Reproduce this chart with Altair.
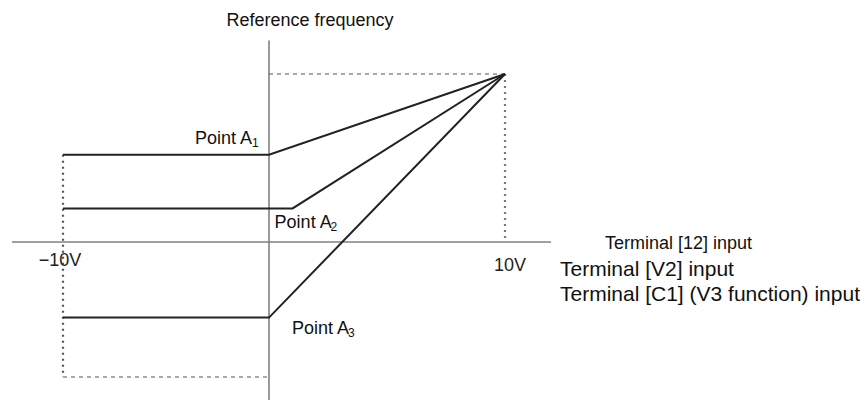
import altair as alt
import pandas as pd

# ---- data ----
series = ["Terminal [12] input", "Terminal [V2] input", "Terminal [C1] (V3 function) input"]
point_names = ["1", "2", "3"]
point_volt = [0, 1, 0]          # voltage at point A (V)
point_freq = [52, 20, -56]      # frequency at point A (% of max)
v_min, v_max = -10, 10
f_max, f_min = 100, -100

rows = []
for s, pv, pf in zip(series, point_volt, point_freq):
    for i, (v, f) in enumerate([(v_min, pf), (pv, pf), (v_max, f_max)]):
        rows.append({"series": s, "volt": v, "freq": f, "order": i})
lines_df = pd.DataFrame(rows)

xs = alt.Scale(domain=[-10, 0, 10], range=[55, 261, 497], zero=False, nice=False)
ys = alt.Scale(domain=[-100, 0, 100], range=[369, 234, 66], zero=False, nice=False)

def X(v):
    return alt.X(datum=v, scale=xs, axis=None, type="quantitative")

def Y(v):
    return alt.Y(datum=v, scale=ys, axis=None, type="quantitative")

base = alt.Chart(pd.DataFrame({"a": [0]}))

def rule(x1, y1, x2, y2, color, width, dash=None):
    kw = dict(color=color, strokeWidth=width)
    if dash:
        kw["strokeDash"] = dash
    return base.mark_rule(**kw).encode(
        x=X(x1), y=Y(y1), x2=alt.X2(datum=x2), y2=alt.Y2(datum=y2))

FONT = "Liberation Sans"

def text(t, x, y, size, align="left", dx=0, dy=0, font=FONT, color="#111", weight="normal"):
    return base.mark_text(text=t, fontSize=size, align=align, baseline="alphabetic",
                          dx=dx, dy=dy, font=font, color=color, fontWeight=weight
                          ).encode(x=X(x), y=Y(y))

axes = [
    rule(-12.48, 0, 11.95, 0, "#808080", 1.6),
    rule(0, 120, 0, -117, "#808080", 1.6),
]
guides = [
    rule(0, f_max, v_max, f_max, "#555", 1.2, [4, 4]),
    rule(v_max, f_max, v_max, 0, "#777", 2.2, [2, 4]),
    rule(v_min, point_freq[0], v_min, f_min, "#555", 2.2, [2, 4]),
    rule(v_min, f_min, 0, f_min, "#aaa", 2.2, [4, 4]),
]

lines = alt.Chart(lines_df).mark_line(color="#222", strokeWidth=2).encode(
    x=alt.X("volt:Q", scale=xs, axis=None),
    y=alt.Y("freq:Q", scale=ys, axis=None),
    detail="series:N",
    order="order:Q",
)

labels = [
    text("Reference frequency", 0, 120, 18, "center", dx=41, dy=-14),
    # Point A1
    text("Point A", point_volt[0], point_freq[0], 18, "right", dx=-17, dy=-11),
    text(point_names[0], point_volt[0], point_freq[0], 12, "left", dx=-17, dy=-8),
    # Point A2
    text("Point A", point_volt[1], point_freq[1], 18, "left", dx=-18, dy=20),
    text(point_names[1], point_volt[1], point_freq[1], 12, "left", dx=38, dy=23),
    # Point A3
    text("Point A", point_volt[2], point_freq[2], 18, "left", dx=23, dy=16),
    text(point_names[2], point_volt[2], point_freq[2], 12, "left", dx=79, dy=19),
    # tick labels
    text("\u221210V", v_min, 0, 18, "center", dx=-3, dy=24, color="#222"),
    text("10V", v_max, 0, 18, "center", dx=5, dy=29, color="#222"),
    # x titles
    text(series[0], v_max, 0, 18, "left", dx=100, dy=7),
    text(series[1], v_max, 0, 21, "left", dx=55, dy=34),
    text(series[2], v_max, 0, 21, "left", dx=55, dy=59),
]

chart = alt.layer(*axes, *guides, lines, *labels).properties(
    width=852, height=392, padding=0, autosize="none"
).configure_view(stroke=None)

chart.save("out.html", embed_options={"renderer": "svg", "actions": False})
